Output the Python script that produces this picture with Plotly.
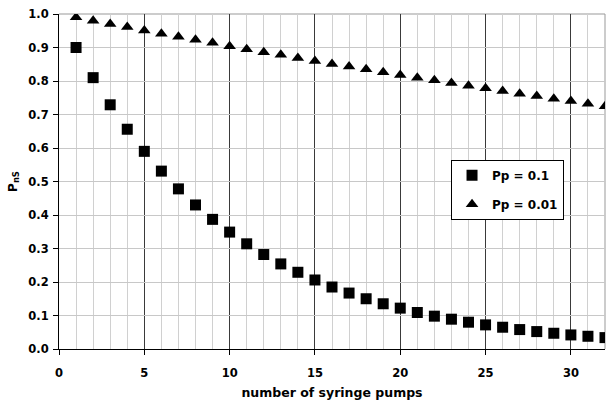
import plotly.graph_objects as go

pumps = list(range(1, 33))
pns_pp01 = [0.900, 0.810, 0.729, 0.656, 0.590, 0.531, 0.478, 0.430, 0.387, 0.349,
            0.314, 0.282, 0.254, 0.229, 0.206, 0.185, 0.167, 0.150, 0.135, 0.122,
            0.109, 0.098, 0.089, 0.080, 0.072, 0.065, 0.058, 0.052, 0.047, 0.042,
            0.038, 0.034]
pns_pp001 = [0.990, 0.980, 0.970, 0.961, 0.951, 0.941, 0.932, 0.923, 0.914, 0.904,
             0.895, 0.886, 0.878, 0.869, 0.860, 0.851, 0.843, 0.835, 0.826, 0.818,
             0.810, 0.802, 0.794, 0.786, 0.778, 0.770, 0.762, 0.755, 0.747, 0.740,
             0.732, 0.725]
series_names = ["Pp = 0.1", "Pp = 0.01"]
x_ticks = [0, 5, 10, 15, 20, 25, 30]
y_ticks = [0.0, 0.1, 0.2, 0.3, 0.4, 0.5, 0.6, 0.7, 0.8, 0.9, 1.0]

FONT = "DejaVu Sans, Liberation Sans, Arial, sans-serif"

fig = go.Figure()
fig.add_trace(go.Scatter(x=pumps, y=pns_pp01, mode="markers",
                         name="<b>" + series_names[0] + "</b>",
                         legendgroup="a",
                         marker=dict(symbol="square", size=11, color="black")))
fig.add_trace(go.Scatter(x=pumps, y=pns_pp001, mode="markers",
                         name="<b>" + series_names[1] + "</b>",
                         legendgroup="b",
                         marker=dict(symbol="triangle-up", size=11, color="black")))

fig.update_layout(
    width=607, height=403,
    margin=dict(l=59, r=2, t=14, b=54),
    paper_bgcolor="white", plot_bgcolor="white",
    font=dict(family=FONT, size=11, color="black"),
    showlegend=True,
    legend=dict(x=0.718, y=0.565, xanchor="left", yanchor="top",
                bgcolor="white", bordercolor="black", borderwidth=1,
                font=dict(family=FONT, size=12, color="black"),
                traceorder="grouped", tracegroupgap=10, itemwidth=30),
    xaxis=dict(range=[0, 32],
               tickvals=x_ticks, ticktext=["<b>%d</b>" % v for v in x_ticks],
               showgrid=True, gridcolor="#3a3a3a", gridwidth=1,
               minor=dict(dtick=1, tick0=0, showgrid=True, gridcolor="#d0d0d0", gridwidth=1),
               showline=True, linecolor="black", linewidth=1,
               ticks="outside", ticklen=5, tickcolor="black",
               ticklabelstandoff=8,
               tickfont=dict(family=FONT, size=11.5, color="black"),
               title=dict(text="<b>number of syringe pumps</b>", standoff=9,
                          font=dict(family=FONT, size=12.5, color="black")),
               zeroline=False),
    yaxis=dict(range=[0, 1],
               tickvals=y_ticks, ticktext=["<b>%.1f</b>" % v for v in y_ticks],
               showgrid=True, gridcolor="#c8c8c8", gridwidth=1,
               showline=True, linecolor="black", linewidth=1,
               ticks="outside", ticklen=5, tickcolor="black",
               ticklabelstandoff=2,
               tickfont=dict(family=FONT, size=11.5, color="black"),
               title=dict(text="<b>P<sub>nS</sub></b>", standoff=8,
                          font=dict(family=FONT, size=12, color="black")),
               zeroline=False),
)

fig.add_shape(type="line", xref="paper", yref="paper", x0=1, x1=1, y0=0, y1=1,
              line=dict(color="#999999", width=1), layer="below")
fig.add_shape(type="line", xref="paper", yref="paper", x0=0, x1=1, y0=1, y1=1,
              line=dict(color="#999999", width=1), layer="below")

fig.write_html("out.html", config={"displayModeBar": False},
               post_script="document.body.style.margin='0';document.body.style.overflow='hidden';")
